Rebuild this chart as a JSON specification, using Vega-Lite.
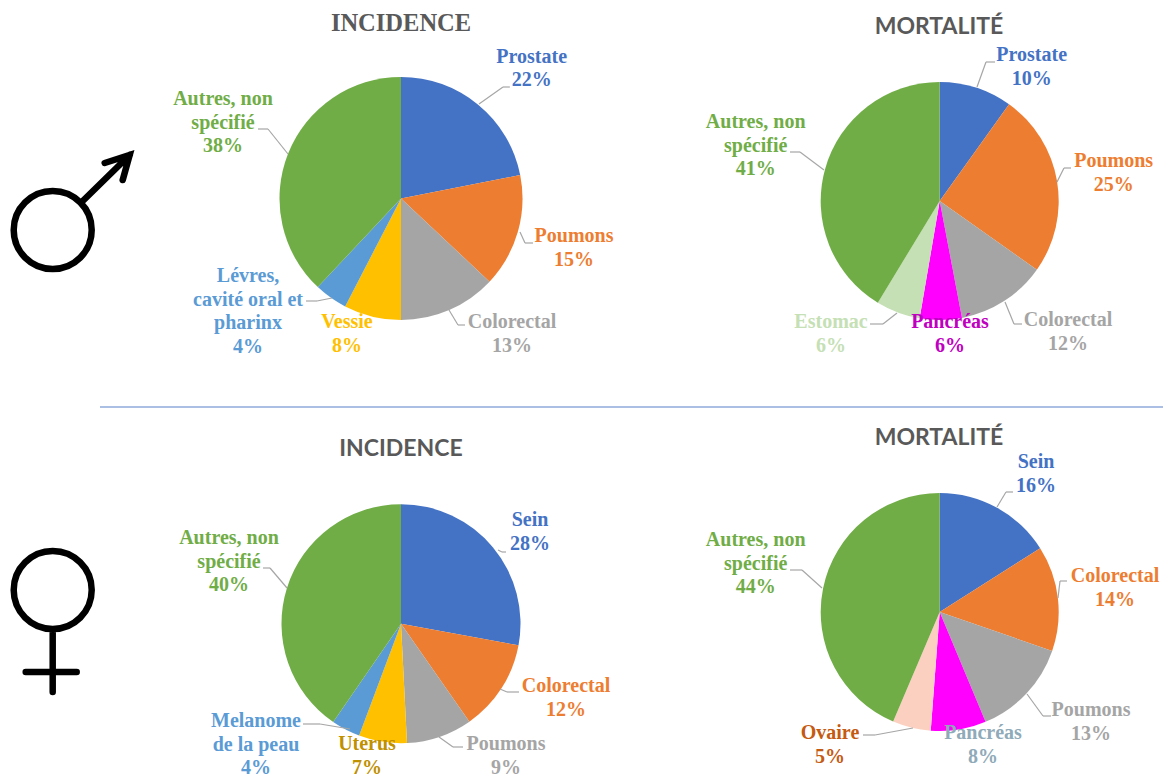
{
"$schema":"https://vega.github.io/schema/vega-lite/v6.json",
"width":1163,"height":774,"padding":0,"autosize":{"type":"none"},"background":"white",
"config":{"view":{"stroke":null}},
"params":[
{"name":"centres","value":{"H-I":[401,198.5,121.5],"H-M":[939.7,201,119],"F-I":[401,623.7,119.5],"F-M":[939.7,612,119]}},
{"name":"etiquettes","value":{
"H-I|Prostate":[531.7,62.5],"H-I|Poumons":[574,242],"H-I|Colorectal":[512,328],"H-I|Vessie":[347,328],"H-I|Lévres":[248,282],"H-I|Autres":[223,105],
"H-M|Prostate":[1031.7,61],"H-M|Poumons":[1113.7,167],"H-M|Colorectal":[1068,326],"H-M|Pancréas":[950,328],"H-M|Estomac":[831,328],"H-M|Autres":[755.7,128],
"F-I|Sein":[530,526],"F-I|Colorectal":[566,692],"F-I|Poumons":[506,750],"F-I|Uterus":[367,750],"F-I|Melanome":[256,727],"F-I|Autres":[229,544],
"F-M|Sein":[1036,468],"F-M|Colorectal":[1115,582],"F-M|Poumons":[1091,716],"F-M|Pancréas":[983,739],"F-M|Ovaire":[830,739],"F-M|Autres":[755.7,546]}},
{"name":"traits","value":{
"H-I|Prostate":[479,104,503,87,510,87],"H-I|Poumons":[520,232,525,243,533,243],"H-I|Colorectal":[449,310,458,325,465,325],"H-I|Lévres":[332,298,317,301,306,301],"H-I|Autres":[288,154,268,129,258,129],
"H-M|Prostate":[977,87,986,62,995,62],"H-M|Poumons":[1057,182,1064,168,1071,168],"H-M|Colorectal":[1005,302,1014,324,1022,324],"H-M|Estomac":[897,313,883,324,870,324],"H-M|Autres":[824,170,800,152,790,152],
"F-I|Sein":[498,550,502,552,506,552],"F-I|Colorectal":[500,689,507,692,519,692],"F-I|Poumons":[439,737,453,747,463,747],"F-I|Melanome":[350,729,320,724,303,724],"F-I|Autres":[287,588,270,568,263,568],
"F-M|Sein":[997,507,1006,492,1013,492],"F-M|Colorectal":[1058,598,1060,581,1067,581],"F-M|Poumons":[1027,694,1043,716,1051,716],"F-M|Ovaire":[913,728,875,735,863,735],"F-M|Autres":[822,588,802,570,790,570]}},
{"name":"titres","value":{"H-I":[401,31],"H-M":[939,34],"F-I":[401,456],"F-M":[939,445]}},
{"name":"symboles","value":{"masculin":[52.7,230],"feminin":[52.7,590]}}
],
"datasets":{
"parts":[
{"panel":"H-I","rang":1,"categorie":"Prostate","libelle":"Prostate","valeur":21.9},
{"panel":"H-I","rang":2,"categorie":"Poumons","libelle":"Poumons","valeur":15.1},
{"panel":"H-I","rang":3,"categorie":"Colorectal","libelle":"Colorectal","valeur":13},
{"panel":"H-I","rang":4,"categorie":"Vessie","libelle":"Vessie","valeur":7.6},
{"panel":"H-I","rang":5,"categorie":"Lévres","libelle":"Lévres,\ncavité oral et\npharinx","valeur":4.4},
{"panel":"H-I","rang":6,"categorie":"Autres","libelle":"Autres, non\nspécifié","valeur":38},
{"panel":"H-M","rang":1,"categorie":"Prostate","libelle":"Prostate","valeur":9.9},
{"panel":"H-M","rang":2,"categorie":"Poumons","libelle":"Poumons","valeur":24.9},
{"panel":"H-M","rang":3,"categorie":"Colorectal","libelle":"Colorectal","valeur":12.2},
{"panel":"H-M","rang":4,"categorie":"Pancréas","libelle":"Pancréas","valeur":5.7},
{"panel":"H-M","rang":5,"categorie":"Estomac","libelle":"Estomac","valeur":6},
{"panel":"H-M","rang":6,"categorie":"Autres","libelle":"Autres, non\nspécifié","valeur":41.3},
{"panel":"F-I","rang":1,"categorie":"Sein","libelle":"Sein","valeur":27.9},
{"panel":"F-I","rang":2,"categorie":"Colorectal","libelle":"Colorectal","valeur":12.4},
{"panel":"F-I","rang":3,"categorie":"Poumons","libelle":"Poumons","valeur":8.9},
{"panel":"F-I","rang":4,"categorie":"Uterus","libelle":"Uterus","valeur":6.5},
{"panel":"F-I","rang":5,"categorie":"Melanome","libelle":"Melanome\nde la peau","valeur":3.9},
{"panel":"F-I","rang":6,"categorie":"Autres","libelle":"Autres, non\nspécifié","valeur":40.4},
{"panel":"F-M","rang":1,"categorie":"Sein","libelle":"Sein","valeur":16},
{"panel":"F-M","rang":2,"categorie":"Colorectal","libelle":"Colorectal","valeur":14.3},
{"panel":"F-M","rang":3,"categorie":"Poumons","libelle":"Poumons","valeur":13.4},
{"panel":"F-M","rang":4,"categorie":"Pancréas","libelle":"Pancréas","valeur":7.5},
{"panel":"F-M","rang":5,"categorie":"Ovaire","libelle":"Ovaire","valeur":5.2},
{"panel":"F-M","rang":6,"categorie":"Autres","libelle":"Autres, non\nspécifié","valeur":43.6}
],
"panneaux":[
{"panel":"H-I","titre":"INCIDENCE"},{"panel":"H-M","titre":"MORTALITÉ"},{"panel":"F-I","titre":"INCIDENCE"},{"panel":"F-M","titre":"MORTALITÉ"}
]
},
"resolve":{"scale":{"color":"independent"}},
"layer":[
{"data":{"values":[{"trait":"separation"}]},
 "mark":{"type":"rule","color":"#8FAADC","strokeWidth":1.5},
 "encoding":{"x":{"datum":100,"type":"quantitative","scale":{"domain":[0,1163],"nice":false,"zero":false},"axis":null},"x2":{"datum":1163},"y":{"datum":407,"type":"quantitative","scale":{"domain":[774,0],"nice":false,"zero":false},"axis":null}}},
{"data":{"values":[{"symbole":"masculin"},{"symbole":"feminin"}]},
 "transform":[{"calculate":"symboles[datum.symbole][0]","as":"sx"},{"calculate":"symboles[datum.symbole][1]","as":"sy"}],
 "mark":{"type":"point","filled":false,"stroke":"black","strokeWidth":6.5,"opacity":1,"strokeCap":"round","size":4},
 "encoding":{
 "x":{"field":"sx","type":"quantitative","scale":{"domain":[0,1163],"nice":false,"zero":false},"axis":null},
 "y":{"field":"sy","type":"quantitative","scale":{"domain":[774,0],"nice":false,"zero":false},"axis":null},
 "shape":{"field":"symbole","type":"nominal","legend":null,"scale":{"domain":["masculin","feminin"],"range":["M-39,0a39,39 0 1,0 78,0a39,39 0 1,0 -78,0M29,-28L77,-75M52,-67L77,-75L70,-50","M-39,0a39,39 0 1,0 78,0a39,39 0 1,0 -78,0M0,39L0,102M-27,82L24,82"]}}}},
{"data":{"name":"parts"},
 "transform":[
 {"stack":"valeur","groupby":["panel"],"sort":[{"field":"rang","order":"ascending"}],"as":["v0","v1"]},
 {"calculate":"datum.panel+'|'+datum.categorie","as":"cle"},
 {"calculate":"centres[datum.panel][0]","as":"cx"},{"calculate":"centres[datum.panel][1]","as":"cy"},{"calculate":"centres[datum.panel][2]","as":"r"}],
 "mark":{"type":"arc"},
 "encoding":{
 "x":{"field":"cx","type":"quantitative","scale":{"domain":[0,1163],"nice":false,"zero":false},"axis":null},
 "y":{"field":"cy","type":"quantitative","scale":{"domain":[774,0],"nice":false,"zero":false},"axis":null},
 "theta":{"field":"v0","type":"quantitative","stack":null,"scale":{"domain":[0,100],"range":[0,6.283185307]}},
 "theta2":{"field":"v1"},
 "radius":{"field":"r","type":"quantitative","stack":null,"scale":null},
 "color":{"field":"cle","type":"nominal","legend":null,"scale":{
 "domain":["H-I|Prostate","H-I|Poumons","H-I|Colorectal","H-I|Vessie","H-I|Lévres","H-I|Autres","H-M|Prostate","H-M|Poumons","H-M|Colorectal","H-M|Pancréas","H-M|Estomac","H-M|Autres","F-I|Sein","F-I|Colorectal","F-I|Poumons","F-I|Uterus","F-I|Melanome","F-I|Autres","F-M|Sein","F-M|Colorectal","F-M|Poumons","F-M|Pancréas","F-M|Ovaire","F-M|Autres"],
 "range":["#4472C4","#ED7D31","#A5A5A5","#FFC000","#5B9BD5","#70AD47","#4472C4","#ED7D31","#A5A5A5","#FF00FF","#C5E0B4","#70AD47","#4472C4","#ED7D31","#A5A5A5","#FFC000","#5B9BD5","#70AD47","#4472C4","#ED7D31","#A5A5A5","#FF00FF","#FBD0C0","#70AD47"]}}}},
{"data":{"name":"parts"},
 "transform":[{"calculate":"datum.panel+'|'+datum.categorie","as":"cle"},{"filter":"isArray(traits[datum.cle])"},
 {"calculate":"traits[datum.cle][0]","as":"x0"},{"calculate":"traits[datum.cle][1]","as":"y0"},{"calculate":"traits[datum.cle][2]","as":"x1"},{"calculate":"traits[datum.cle][3]","as":"y1"}],
 "mark":{"type":"rule","color":"#A6A6A6","strokeWidth":1.2},
 "encoding":{"x":{"field":"x0","type":"quantitative","scale":{"domain":[0,1163],"nice":false,"zero":false},"axis":null},"x2":{"field":"x1"},"y":{"field":"y0","type":"quantitative","scale":{"domain":[774,0],"nice":false,"zero":false},"axis":null},"y2":{"field":"y1"}}},
{"data":{"name":"parts"},
 "transform":[{"calculate":"datum.panel+'|'+datum.categorie","as":"cle"},{"filter":"isArray(traits[datum.cle])"},
 {"calculate":"traits[datum.cle][2]","as":"x1"},{"calculate":"traits[datum.cle][3]","as":"y1"},{"calculate":"traits[datum.cle][4]","as":"x2"},{"calculate":"traits[datum.cle][5]","as":"y2"}],
 "mark":{"type":"rule","color":"#A6A6A6","strokeWidth":1.2},
 "encoding":{"x":{"field":"x1","type":"quantitative","scale":{"domain":[0,1163],"nice":false,"zero":false},"axis":null},"x2":{"field":"x2"},"y":{"field":"y1","type":"quantitative","scale":{"domain":[774,0],"nice":false,"zero":false},"axis":null},"y2":{"field":"y2"}}},
{"data":{"name":"parts"},
 "transform":[{"calculate":"datum.panel+'|'+datum.categorie","as":"cle"},
 {"calculate":"etiquettes[datum.cle][0]","as":"lx"},{"calculate":"etiquettes[datum.cle][1]","as":"ly"},
 {"calculate":"datum.libelle+'\\n'+round(datum.valeur)+'%'","as":"etiquette"}],
 "mark":{"type":"text","font":"Liberation Serif","fontWeight":"bold","fontSize":20,"align":"center","baseline":"alphabetic","lineBreak":"\n","lineHeight":23.5},
 "encoding":{
 "x":{"field":"lx","type":"quantitative","scale":{"domain":[0,1163],"nice":false,"zero":false},"axis":null},
 "y":{"field":"ly","type":"quantitative","scale":{"domain":[774,0],"nice":false,"zero":false},"axis":null},
 "text":{"field":"etiquette","type":"nominal"},
 "color":{"field":"cle","type":"nominal","legend":null,"scale":{
 "domain":["H-I|Prostate","H-I|Poumons","H-I|Colorectal","H-I|Vessie","H-I|Lévres","H-I|Autres","H-M|Prostate","H-M|Poumons","H-M|Colorectal","H-M|Pancréas","H-M|Estomac","H-M|Autres","F-I|Sein","F-I|Colorectal","F-I|Poumons","F-I|Uterus","F-I|Melanome","F-I|Autres","F-M|Sein","F-M|Colorectal","F-M|Poumons","F-M|Pancréas","F-M|Ovaire","F-M|Autres"],
 "range":["#4472C4","#ED7D31","#A5A5A5","#FFC000","#5B9BD5","#70AD47","#4472C4","#ED7D31","#A5A5A5","#C000C0","#C5E0B4","#70AD47","#4472C4","#ED7D31","#A5A5A5","#BF9000","#5B9BD5","#70AD47","#4472C4","#ED7D31","#A5A5A5","#8FAAB8","#C55A11","#70AD47"]}}}},
{"data":{"name":"panneaux"},
 "transform":[{"filter":"datum.panel=='H-I'"},{"calculate":"titres[datum.panel][0]","as":"tx"},{"calculate":"titres[datum.panel][1]","as":"ty"}],
 "mark":{"type":"text","font":"Liberation Serif","fontWeight":"bold","fontSize":24.5,"align":"center","baseline":"alphabetic","color":"#595959"},
 "encoding":{"x":{"field":"tx","type":"quantitative","scale":{"domain":[0,1163],"nice":false,"zero":false},"axis":null},"y":{"field":"ty","type":"quantitative","scale":{"domain":[774,0],"nice":false,"zero":false},"axis":null},"text":{"field":"titre","type":"nominal"}}},
{"data":{"name":"panneaux"},
 "transform":[{"filter":"datum.panel!='H-I'"},{"calculate":"titres[datum.panel][0]","as":"tx"},{"calculate":"titres[datum.panel][1]","as":"ty"}],
 "mark":{"type":"text","font":"Lato","fontWeight":"bold","fontSize":23,"align":"center","baseline":"alphabetic","color":"#595959"},
 "encoding":{"x":{"field":"tx","type":"quantitative","scale":{"domain":[0,1163],"nice":false,"zero":false},"axis":null},"y":{"field":"ty","type":"quantitative","scale":{"domain":[774,0],"nice":false,"zero":false},"axis":null},"text":{"field":"titre","type":"nominal"}}}
]
}
